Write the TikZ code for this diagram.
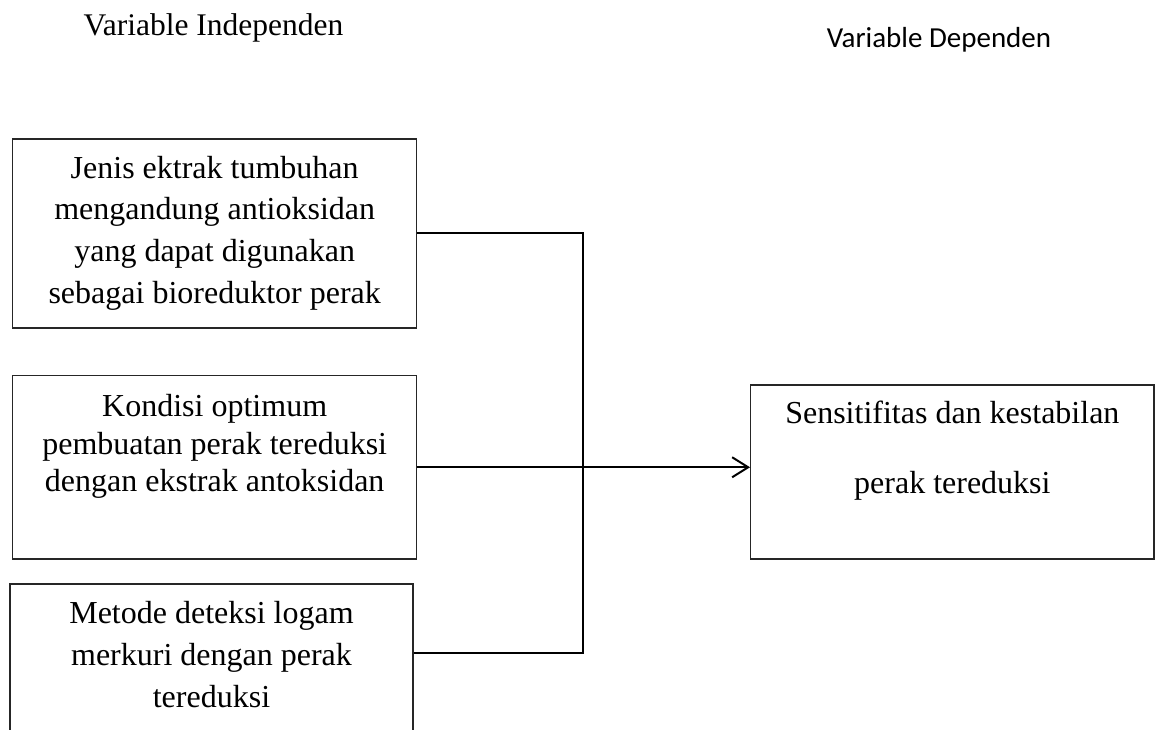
\documentclass[tikz,border=0pt]{standalone}
\usepackage{fontspec}
\setmainfont{Liberation Serif}
\newfontfamily\carlitofont{Carlito}
\usetikzlibrary{arrows.meta}
\begin{document}
\begin{tikzpicture}[x=1pt,y=-1pt,
  boxstyle/.style={draw=black!85, line width=1.3pt, inner sep=0pt, rectangle},
  linetext/.style={anchor=base, inner sep=0pt, font=\fontsize{32}{38}\selectfont},
  headserif/.style={anchor=base, inner sep=0pt, font=\fontsize{31.5}{38}\selectfont},
  headsans/.style={anchor=base, inner sep=0pt, font=\carlitofont\fontsize{29}{35}\selectfont},
  conn/.style={draw=black, line width=2pt, line join=miter}]
\useasboundingbox (0,0) rectangle (1162,729);
% headers
\node[headserif] (hind) at (213.5,35) {Variable Independen};
\node[headsans] (hdep) at (939,47) {Variable Dependen};
% boxes
\node[boxstyle, minimum width=404pt, minimum height=189pt] (box1) at (214.7,233.5) {};
\node[boxstyle, minimum width=404pt, minimum height=183.5pt] (box2) at (214.7,467.25) {};
\node[boxstyle, minimum width=403pt, minimum height=190pt] (box3) at (211.5,679) {};
\node[boxstyle, minimum width=403.3pt, minimum height=174pt] (rbox) at (952.35,472) {};
% box texts
\node[linetext] (b1a) at (214.7,178) {Jenis ektrak tumbuhan};
\node[linetext] (b1b) at (214.7,219.7) {mengandung antioksidan};
\node[linetext] (b1c) at (214.7,261.3) {yang dapat digunakan};
\node[linetext] (b1d) at (214.7,303) {sebagai bioreduktor perak};
\node[linetext] (b2a) at (214.7,416.7) {Kondisi optimum};
\node[linetext] (b2b) at (214.7,454.2) {pembuatan perak tereduksi};
\node[linetext] (b2c) at (214.7,491.7) {dengan ekstrak antoksidan};
\node[linetext] (b3a) at (211.5,623) {Metode deteksi logam};
\node[linetext] (b3b) at (211.5,665) {merkuri dengan perak};
\node[linetext] (b3c) at (211.5,707) {tereduksi};
\node[linetext] (rba) at (952.35,423) {Sensitifitas dan kestabilan};
\node[linetext] (rbb) at (952.35,493) {perak tereduksi};
% connectors
\coordinate (jt) at (583,232.7);
\coordinate (jb) at (583,653);
\draw[conn] (box1.east |- jt) -- (jt) -- (jb) -- (box3.east |- jb);
\draw[conn, -{Straight Barb[length=16pt,width=20pt,line width=2pt]}] (box2.east) -- (box2.east -| rbox.west);
\end{tikzpicture}
\end{document}
